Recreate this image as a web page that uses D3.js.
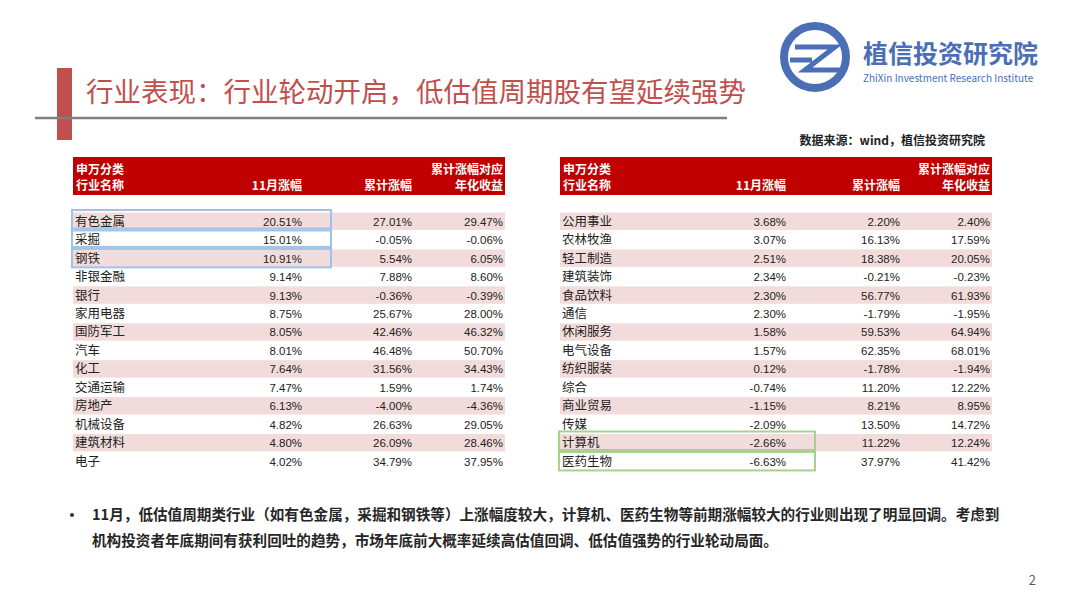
<!DOCTYPE html>
<html><head><meta charset="utf-8">
<script src="https://cdn.jsdelivr.net/npm/d3@7"></script>
<style>body{margin:0;background:#fff;font-family:"Noto Sans CJK SC","Noto Sans",sans-serif}</style>
</head><body>
<svg id="c" width="1080" height="605"></svg>
<script>
// left table
const leftNames = ["有色金属","采掘","钢铁","非银金融","银行","家用电器","国防军工","汽车","化工","交通运输","房地产","机械设备","建筑材料","电子"];
const leftNov = ["20.51%","15.01%","10.91%","9.14%","9.13%","8.75%","8.05%","8.01%","7.64%","7.47%","6.13%","4.82%","4.80%","4.02%"];
const leftCum = ["27.01%","-0.05%","5.54%","7.88%","-0.36%","25.67%","42.46%","46.48%","31.56%","1.59%","-4.00%","26.63%","26.09%","34.79%"];
const leftAnn = ["29.47%","-0.06%","6.05%","8.60%","-0.39%","28.00%","46.32%","50.70%","34.43%","1.74%","-4.36%","29.05%","28.46%","37.95%"];
// right table
const rightNames = ["公用事业","农林牧渔","轻工制造","建筑装饰","食品饮料","通信","休闲服务","电气设备","纺织服装","综合","商业贸易","传媒","计算机","医药生物"];
const rightNov = ["3.68%","3.07%","2.51%","2.34%","2.30%","2.30%","1.58%","1.57%","0.12%","-0.74%","-1.15%","-2.09%","-2.66%","-6.63%"];
const rightCum = ["2.20%","16.13%","18.38%","-0.21%","56.77%","-1.79%","59.53%","62.35%","-1.78%","11.20%","8.21%","13.50%","11.22%","37.97%"];
const rightAnn = ["2.40%","17.59%","20.05%","-0.23%","61.93%","-1.95%","64.94%","68.01%","-1.94%","12.22%","8.95%","14.72%","12.24%","41.42%"];
const leftMarked = [0,1,2], rightMarked = [12,13];

const svg = d3.select("#c");

// title block
svg.append("rect").attr("x",57).attr("y",68).attr("width",15).attr("height",72).attr("fill","#c0504d");
svg.append("line").attr("x1",35).attr("x2",727).attr("y1",118).attr("y2",118).attr("stroke","#7f7f7f").attr("stroke-width",2.5);
svg.append("text").attr("x",86).attr("y",102).attr("font-size",27.5).attr("fill","#c0504d")
  .text("行业表现：行业轮动开启，低估值周期股有望延续强势");

// logo
const lg = svg.append("g");
lg.append("circle").attr("cx",815).attr("cy",57).attr("r",31).attr("fill","none").attr("stroke","#4a6fb5").attr("stroke-width",8);
lg.append("path").attr("d","M795,47 H835 L805,70 H840 M790,60 H812").attr("fill","none").attr("stroke","#4a6fb5").attr("stroke-width",5);
lg.append("text").attr("x",863).attr("y",63).attr("font-size",25).attr("font-weight","bold").attr("fill","#4a6fb5").text("植信投资研究院");
lg.append("text").attr("x",863).attr("y",82).attr("font-size",10).attr("fill","#4a6fb5").text("ZhiXin Investment Research Institute");

svg.append("text").attr("x",985).attr("y",145).attr("text-anchor","end").attr("font-size",12).attr("font-weight","bold").attr("fill","#222")
  .text("数据来源：wind，植信投资研究院");

function table(x0, cols, names, nov, cum, ann, marked, markColor) {
  const g = svg.append("g");
  const w = 432;
  const y = d3.scaleBand().domain(d3.range(names.length)).range([212, 212 + 18.46*names.length]);
  g.append("rect").attr("x",x0).attr("y",157).attr("width",w).attr("height",38).attr("fill","#c00000");
  const ht = (x,yy,t,a) => g.append("text").attr("x",x).attr("y",yy).attr("text-anchor",a)
    .attr("fill","#fff").attr("font-size",12).attr("font-weight","bold").text(t);
  ht(x0+3,174,"申万分类","start"); ht(x0+3,190,"行业名称","start");
  ht(x0+cols[0],190,"11月涨幅","end"); ht(x0+cols[1],190,"累计涨幅","end");
  ht(x0+cols[2],174,"累计涨幅对应","end"); ht(x0+cols[2],190,"年化收益","end");
  names.forEach((n,i)=>{
    if (i%2===0) g.append("rect").attr("x",x0).attr("y",y(i)+0.5).attr("width",w).attr("height",y.bandwidth()-1).attr("fill","#f2dcdb");
    const cy = y(i)+y.bandwidth()/2+4.5;
    g.append("text").attr("x",x0+2).attr("y",cy).attr("font-size",12.5).attr("fill","#222").text(n);
    [nov,cum,ann].forEach((arr,j)=>g.append("text").attr("x",x0+cols[j]).attr("y",cy).attr("text-anchor","end")
      .attr("font-size",11.5).attr("fill","#222").attr("font-family","Liberation Sans, Arial").text(arr[i]));
  });
  marked.forEach(i=>g.append("rect").attr("x",x0-1).attr("y",y(i)-2).attr("width",cols[0]+30).attr("height",y.bandwidth()+2)
    .attr("fill","none").attr("stroke",markColor).attr("stroke-width",2));
}
table(73,[229,339,430],leftNames,leftNov,leftCum,leftAnn,leftMarked,"#9dc3e6");
table(560,[226,340,430],rightNames,rightNov,rightCum,rightAnn,rightMarked,"#a9d18e");

// bullet
svg.append("circle").attr("cx",72).attr("cy",515).attr("r",2).attr("fill","#333");
const t = svg.append("text").attr("font-size",14.6).attr("font-weight","bold").attr("fill","#262626");
t.append("tspan").attr("x",92).attr("y",520).text("11月，低估值周期类行业（如有色金属，采掘和钢铁等）上涨幅度较大，计算机、医药生物等前期涨幅较大的行业则出现了明显回调。考虑到");
t.append("tspan").attr("x",92).attr("y",546).text("机构投资者年底期间有获利回吐的趋势，市场年底前大概率延续高估值回调、低估值强势的行业轮动局面。");
svg.append("text").attr("x",1036).attr("y",585).attr("text-anchor","end").attr("font-size",13).attr("fill","#595959").text("2");
</script>
</body></html>
